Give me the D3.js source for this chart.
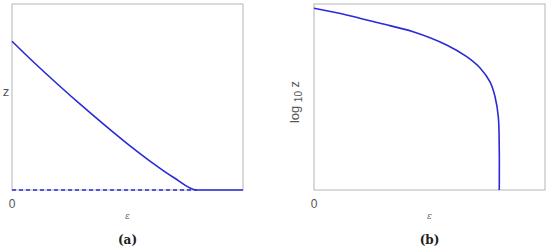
<!DOCTYPE html>
<html>
<head>
<meta charset="utf-8">
<script src="https://cdn.jsdelivr.net/npm/d3@7"></script>
<style>
  body { margin: 0; background: #fff; }
  svg { display: block; }
</style>
</head>
<body>
<svg id="chart" width="550" height="250"></svg>
<script>
// Panel (a): z vs epsilon (solid curve, dashed zero branch)
const epsA = [0, 0.1, 0.2, 0.3, 0.4, 0.5, 0.6, 0.7, 0.8, 1.0];
const zA = [0.80, 0.68, 0.566, 0.456, 0.35, 0.248, 0.153, 0.067, 0, 0];
const epsDashA = [0, 0.8];
const zDashA = [0, 0];

// Panel (b): log10 z vs epsilon
const epsB = [0, 0.141, 0.286, 0.429, 0.574, 0.661, 0.719, 0.762, 0.784, 0.798, 0.802, 0.802];
const logzB = [0.977, 0.941, 0.896, 0.851, 0.780, 0.717, 0.656, 0.581, 0.500, 0.392, 0.215, 0];

const tickX = ["0"];
const panelLabels = ["(a)", "(b)"];

const blue = "#2a2ad8";
const svg = d3.select("#chart");

function panel(left, xs, ys, dashXs, dashYs, curve, caption) {
  const x = d3.scaleLinear().domain([0, 1]).range([left, left + 231]);
  const y = d3.scaleLinear().domain([0, 1]).range([190, 4]);

  // cadre gris
  svg.append("rect")
    .attr("x", x(0)).attr("y", y(1))
    .attr("width", x(1) - x(0)).attr("height", y(0) - y(1))
    .attr("fill", "none").attr("stroke", "#b4b4b4").attr("stroke-width", 1);

  const line = d3.line().x((d) => x(d[0])).y((d) => y(d[1]));

  if (dashXs) {
    svg.append("path")
      .datum(dashXs.map((v, i) => [v, dashYs[i]]))
      .attr("d", line).attr("fill", "none")
      .attr("stroke", blue).attr("stroke-width", 1.6)
      .attr("stroke-dasharray", "4,3");
  }

  svg.append("path")
    .datum(xs.map((v, i) => [v, ys[i]]))
    .attr("d", d3.line().x((d) => x(d[0])).y((d) => y(d[1])).curve(curve))
    .attr("fill", "none")
    .attr("stroke", blue).attr("stroke-width", 1.6);

  // tick "0"
  svg.append("text")
    .attr("x", x(0)).attr("y", 208)
    .attr("text-anchor", "middle")
    .style("font-family", "'Liberation Sans', Arial, sans-serif")
    .style("font-size", "12px").style("fill", "#555")
    .text(tickX[0]);

  // epsilon
  svg.append("text")
    .attr("x", x(0.5)).attr("y", 219)
    .attr("text-anchor", "middle")
    .style("font-family", "'DejaVu Serif', serif").style("font-style", "italic")
    .style("font-size", "9px").style("fill", "#666")
    .text("ε");

  // caption (a)/(b)
  svg.append("text")
    .attr("x", x(0.5)).attr("y", 244)
    .attr("text-anchor", "middle")
    .style("font-family", "'DejaVu Serif', serif").style("font-weight", "bold")
    .style("font-size", "12px").style("fill", "#222")
    .text(caption);

  return x;
}

panel(12, epsA, zA, epsDashA, zDashA, d3.curveMonotoneX, panelLabels[0]);
panel(314, epsB, logzB, null, null, d3.curveCatmullRom.alpha(0.5), panelLabels[1]);

// y label (a)
svg.append("text")
  .attr("x", 6).attr("y", 96)
  .attr("text-anchor", "middle")
  .style("font-family", "'Liberation Sans', Arial, sans-serif")
  .style("font-size", "13px").style("fill", "#555")
  .text("z");

// y label (b): log10 z, rotated
const lbl = svg.append("text")
  .attr("transform", "translate(299,102) rotate(-90)")
  .attr("text-anchor", "middle")
  .style("font-family", "'Liberation Sans', Arial, sans-serif")
  .style("font-size", "13px").style("fill", "#555");
lbl.append("tspan").text("log ");
lbl.append("tspan").attr("dy", 3).style("font-size", "10px").text("10");
lbl.append("tspan").attr("dy", -3).text(" z");
</script>
</body>
</html>
